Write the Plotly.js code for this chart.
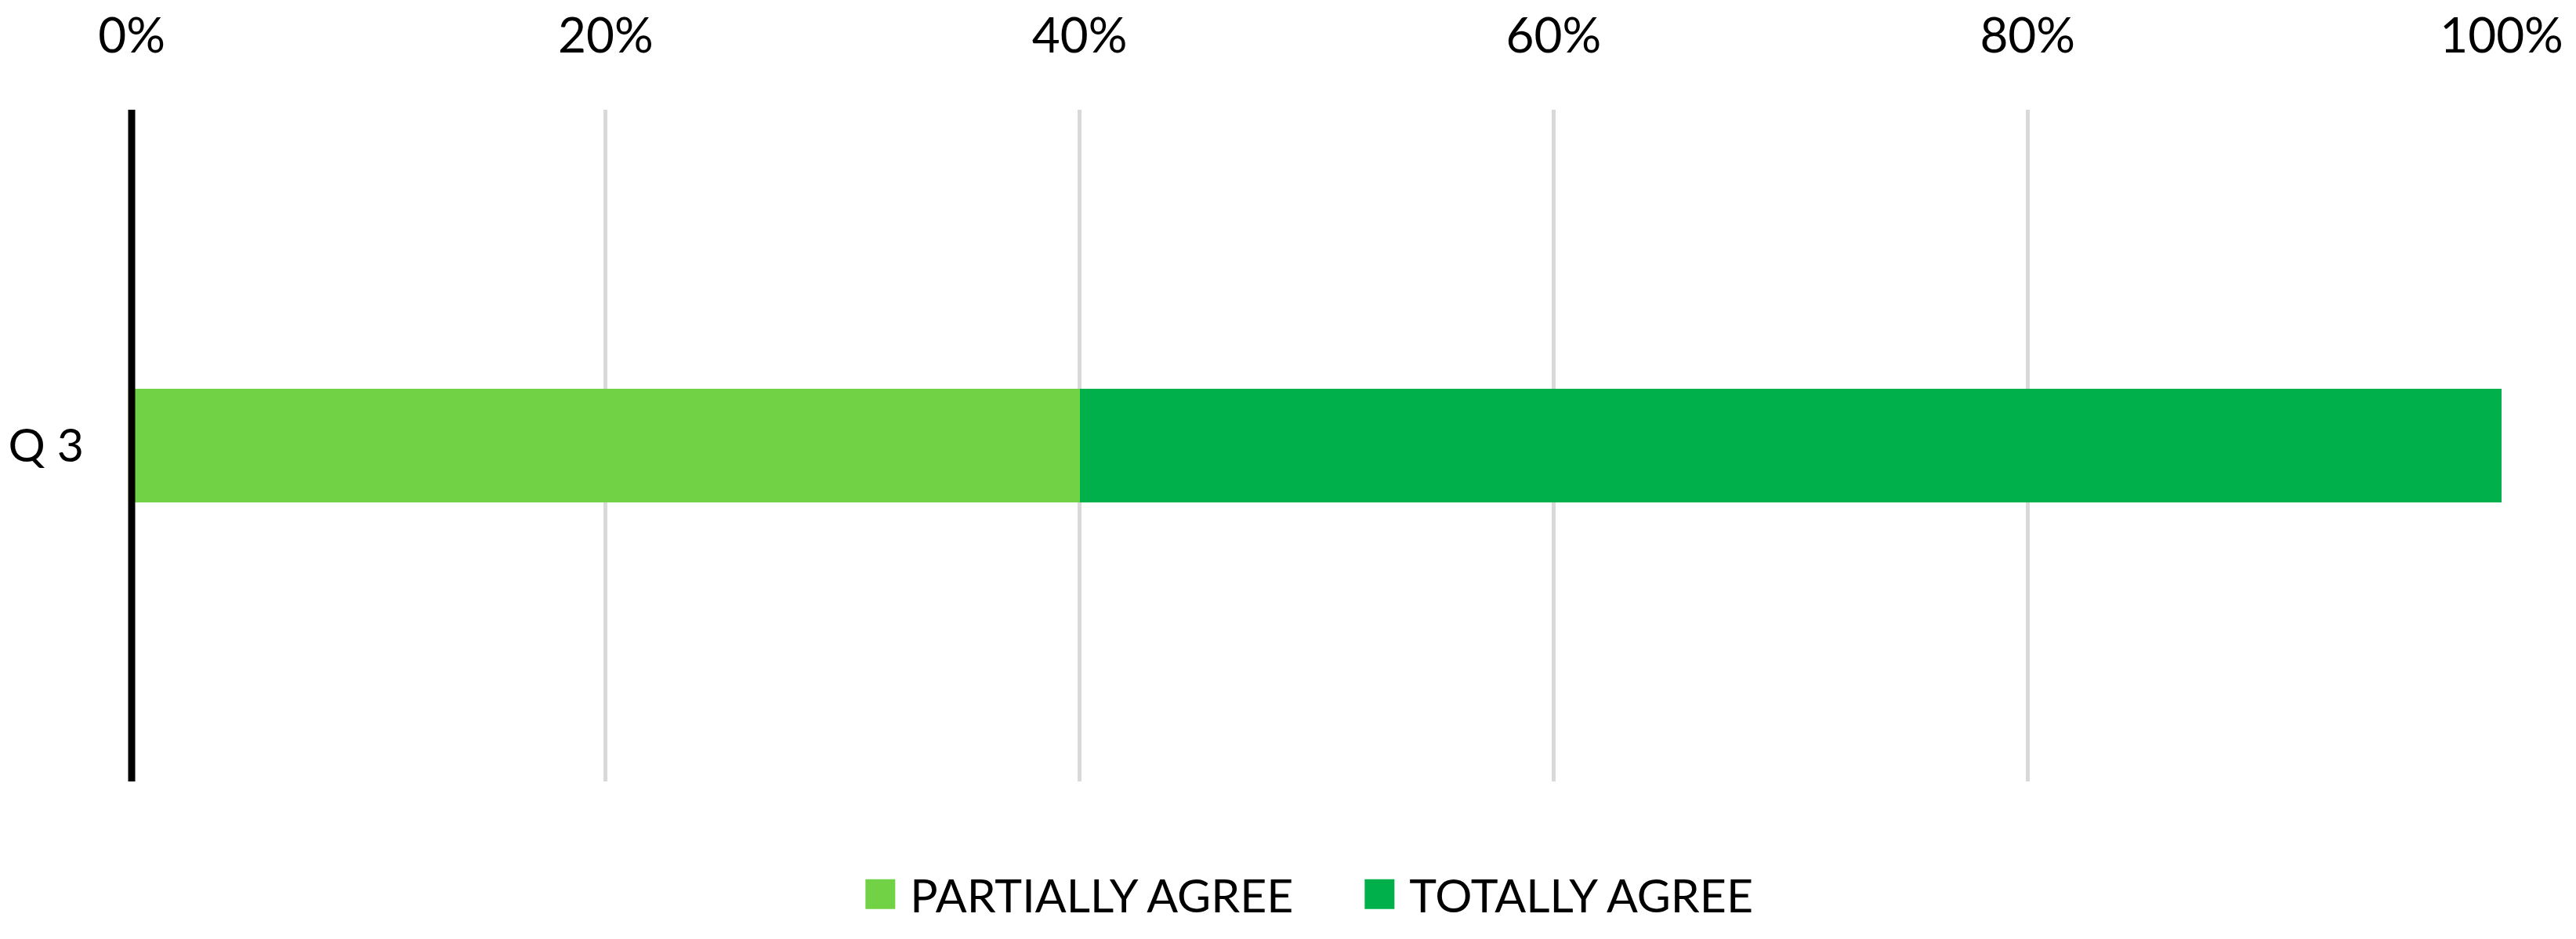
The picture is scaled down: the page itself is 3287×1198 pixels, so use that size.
<!DOCTYPE html>
<html>
<head>
<meta charset="utf-8">
<script src="https://cdn.plot.ly/plotly-3.0.1.min.js"></script>
<style>
    html, body { margin: 0; padding: 0; background: #fff; }
    #chart { width: 3287px; height: 1198px; }
</style>
</head>
<body>
<div id="chart"></div>
<script>
// Data
let questions = ["Q 3"];
let series_names = ["PARTIALLY AGREE", "TOTALLY AGREE"];
let partially_agree = [0.40];
let totally_agree = [0.60];
let series_colors = ["#70D244", "#00B04A"];
let x_ticks = [0, 0.2, 0.4, 0.6, 0.8, 1.0];

let font = { family: "Lato, 'Open Sans', sans-serif", size: 59, color: "#000" };

let values = [partially_agree, totally_agree];
let traces = series_names.map((name, i) => ({
    type: "bar",
    orientation: "h",
    name: name,
    y: questions,
    x: values[i],
    marker: { color: series_colors[i], line: { width: 0 } },
    hoverinfo: "x+name",
}));

let layout = {
    width: 3287,
    height: 1198,
    margin: { l: 168, r: 95, t: 140, b: 196 },
    paper_bgcolor: "#fff",
    plot_bgcolor: "#fff",
    font: font,
    barmode: "stack",
    bargap: 0.831,
    showlegend: true,
    legend: {
        orientation: "h",
        x: 0.514, xanchor: "center",
        y: -0.168, yanchor: "middle",
        itemwidth: 66,
        entrywidth: 556,
        traceorder: "normal",
        font: font,
    },
    xaxis: {
        side: "top",
        range: [0, 1],
        tickvals: x_ticks,
        tickformat: ".0%",
        tickfont: { size: 62 },
        ticks: "",
        ticklabelstandoff: 60,
        showgrid: true,
        gridcolor: "#D9D9D9",
        gridwidth: 5,
        zeroline: false,
        showline: false,
        fixedrange: true,
    },
    yaxis: {
        type: "category",
        range: [-0.5, 0.5],
        ticks: "",
        ticklabelstandoff: 60,
        showgrid: false,
        zeroline: false,
        showline: false,
        fixedrange: true,
    },
    // vertical axis line at 0%, drawn over the bars like the reference
    shapes: [{
        type: "line",
        xref: "paper", yref: "paper",
        x0: 0, x1: 0, y0: 0, y1: 1,
        line: { color: "#000", width: 9 },
        layer: "above",
    }],
};

Plotly.newPlot("chart", traces, layout, { displayModeBar: false, staticPlot: true }).then(gd => {
    // Plotly bar legend symbols are fixed 12px squares; enlarge them to match
    gd.querySelectorAll(".legend .legendpoints path").forEach(p => {
        p.setAttribute("d", "M19,19H-19V-19H19Z");
    });
});
</script>
</body>
</html>
